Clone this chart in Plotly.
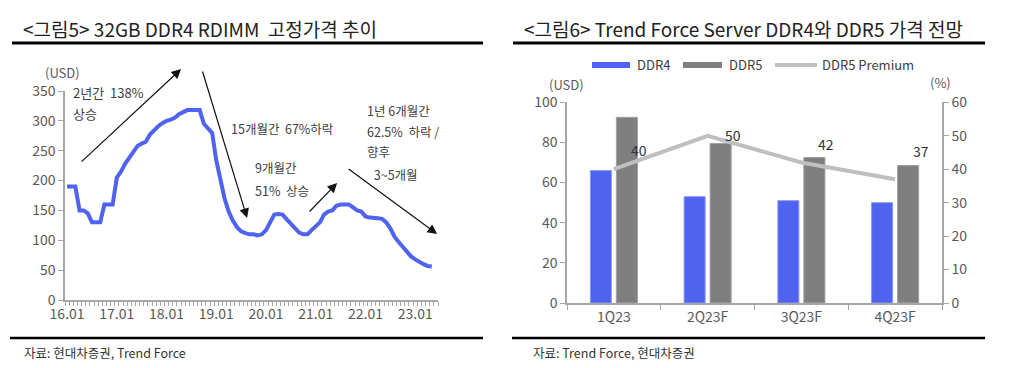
import plotly.graph_objects as go

# ---------------- data ----------------
# Left chart: 32GB DDR4 RDIMM fixed price (USD), monthly from 2016.01
price_usd = [190, 190, 190, 150, 150, 145, 130, 130, 130, 160, 160, 160,
             205, 215, 228, 238, 248, 258, 262, 265, 277, 285, 291, 296,
             300, 302, 305, 311, 314, 318, 318, 318, 318, 295, 288, 280,
             234, 201, 170, 148, 133, 122, 115, 112, 110, 110, 108, 110,
             117, 130, 143, 144, 143, 135, 127, 120, 113, 110, 110, 117,
             123, 130, 143, 148, 150, 158, 160, 160, 160, 155, 150, 148,
             140, 138, 138, 137, 136, 130, 120, 106, 97, 89, 80, 73,
             68, 63, 60, 57, 56]
month_index = list(range(len(price_usd)))
year_tick_pos = [0, 12, 24, 36, 48, 60, 72, 84]
year_tick_labels = ["16.01", "17.01", "18.01", "19.01", "20.01", "21.01", "22.01", "23.01"]

# Right chart: Trend Force server DDR4 / DDR5 price outlook
quarters = ["1Q23", "2Q23F", "3Q23F", "4Q23F"]
ddr4 = [66, 53, 51, 50]
ddr5 = [92.5, 79.5, 72.5, 68.5]
ddr5_premium = [40, 50, 42, 37]

# ---------------- helpers ----------------
W, H = 1010, 368
OX, OY = 8, 8   # page body margin compensation

def fx(x):
    return (x - OX) / W

def fy(y):
    return 1 - (y - OY) / H

FONT = "Noto Sans CJK KR"
TXT = "#404040"
TICK = "#595959"
AXC = "#A6A6A6"
BLUE = "#4F63F0"
GRAY = "#7F7F7F"
LGRAY = "#BFBFBF"

# left chart pixel mapping (for annotation arrows)
L_X0, L_DX = 67.0, 4.144
L_Y0, L_DY = 300.0, 209.0 / 350.0

def lmx(px):
    return (px - L_X0) / L_DX

def lmy(py):
    return (L_Y0 - py) / L_DY

fig = go.Figure()

fig.add_trace(go.Scatter(
    x=month_index, y=price_usd, mode="lines",
    line=dict(color=BLUE, width=4), xaxis="x", yaxis="y",
    showlegend=False, hoverinfo="skip"))

fig.add_trace(go.Bar(
    x=quarters, y=ddr4, name="DDR4", marker=dict(color=BLUE, line=dict(color="#8C9AF5", width=1)),
    xaxis="x2", yaxis="y2", showlegend=False))
fig.add_trace(go.Bar(
    x=quarters, y=ddr5, name="DDR5", marker=dict(color=GRAY, line=dict(color="#A0A0A0", width=1)),
    xaxis="x2", yaxis="y2", showlegend=False))
fig.add_trace(go.Scatter(
    x=quarters, y=ddr5_premium, name="DDR5 Premium", mode="lines",
    line=dict(color=LGRAY, width=4), xaxis="x2", yaxis="y3", showlegend=False))

axis_common = dict(showgrid=False, zeroline=False, showline=True, linecolor=AXC, automargin=False,
                   linewidth=1.5, tickcolor=AXC, tickfont=dict(family=FONT, size=14, color=TICK))

fig.update_layout(
    width=W, height=H, margin=dict(l=0, r=0, t=0, b=0, autoexpand=False),
    paper_bgcolor="white", plot_bgcolor="white",
    barmode="group", bargap=0.445, bargroupgap=0.19,
    font=dict(family=FONT, color=TXT),
    xaxis=dict(domain=[fx(65), fx(438)], range=[-0.5, 89.5], anchor="y",
               tickmode="array", tickvals=year_tick_pos, ticktext=year_tick_labels,
               ticks="", minor=dict(tickmode="linear", tick0=-0.5, dtick=1, ticks="outside",
                                     ticklen=4, tickcolor=AXC, tickwidth=1),
               **axis_common),
    yaxis=dict(domain=[fy(300), fy(91)], range=[0, 350], dtick=50, anchor="x",
               ticks="outside", ticklen=5, **axis_common),
    xaxis2=dict(domain=[fx(567), fx(942)], type="category", anchor="y2",
                ticks="outside", ticklen=5, tickson="boundaries", **axis_common),
    yaxis2=dict(domain=[fy(303), fy(102.3)], range=[0, 100], dtick=20, anchor="x2",
                ticks="outside", ticklen=5, **axis_common),
    yaxis3=dict(domain=[fy(303), fy(102.3)], range=[0, 60], dtick=10, anchor="x2",
                overlaying="y2", side="right", ticks="outside", ticklen=5, **axis_common),
)

ann = []

def txt(x, y, s, size=13, color=TXT, xanchor="left"):
    ann.append(dict(x=fx(x), y=fy(y), xref="paper", yref="paper", text=s, showarrow=False,
                    xanchor=xanchor, yanchor="middle", font=dict(family=FONT, size=size, color=color)))

# titles
txt(21, 29, "&lt;그림5&gt; 32GB DDR4 RDIMM  고정가격 추이", size=19, color="#222222")
txt(522, 29, "&lt;그림6&gt; Trend Force Server DDR4와 DDR5 가격 전망", size=19, color="#222222")
# sources
txt(22, 352, "자료: 현대차증권, Trend Force", size=12.5, color="#333333")
txt(531, 352, "자료: Trend Force, 현대차증권", size=12.5, color="#333333")
# unit labels
txt(43, 73, "(USD)", size=13, color=TICK)
txt(547, 84, "(USD)", size=13, color=TICK)
txt(928, 83, "(%)", size=13, color=TICK)

# left chart annotation text
txt(71, 93, "2년간  138%", size=13)
txt(71, 113, "상승", size=13)
txt(229, 128, "15개월간  67%하락", size=12.5)
txt(253, 168, "9개월간", size=12.5)
txt(253, 190, "51%  상승", size=12.5)
txt(365, 110, "1년 6개월간", size=12.5)
txt(365, 132, "62.5%  하락 /", size=12.5)
txt(365, 151, "향후", size=12.5)
txt(369, 174, " 3~5개월", size=12.5)

# arrows (tail -> head) in left chart data coordinates
arrows = [((80, 163), (181, 69)), ((202, 70), (247, 218)),
          ((308, 213), (337, 183)), ((347, 168), (437, 234))]
for (tx, ty), (hx, hy) in arrows:
    ann.append(dict(x=lmx(hx), y=lmy(hy), ax=lmx(tx), ay=lmy(ty), xref="x", yref="y",
                    axref="x", ayref="y", showarrow=True, arrowhead=2, arrowsize=1.6,
                    arrowwidth=1.2, arrowcolor="#111111", text=""))

# premium labels
shifts = [(25, 19), (25, 1), (25, 19), (26, 28)]
for q, v, (sx, sy) in zip(quarters, ddr5_premium, shifts):
    ann.append(dict(x=q, y=v, xref="x2", yref="y3", text=str(v), showarrow=False,
                    xshift=sx, yshift=sy, font=dict(family=FONT, size=14, color="#333333")))

# custom legend
txt(635, 65, "DDR4", size=13)
txt(727, 65, "DDR5", size=13)
txt(820, 65, "DDR5 Premium", size=13)
fig.update_layout(annotations=ann)

shapes = [
    dict(type="line", xref="paper", yref="paper", x0=fx(12), x1=fx(483), y0=fy(43), y1=fy(43),
         line=dict(color="black", width=3)),
    dict(type="line", xref="paper", yref="paper", x0=fx(513), x1=fx(985), y0=fy(43), y1=fy(43),
         line=dict(color="black", width=3)),
    dict(type="line", xref="paper", yref="paper", x0=fx(10), x1=fx(483), y0=fy(338), y1=fy(338),
         line=dict(color="black", width=2.5)),
    dict(type="line", xref="paper", yref="paper", x0=fx(512), x1=fx(985), y0=fy(338), y1=fy(338),
         line=dict(color="black", width=2.5)),
    dict(type="rect", xref="paper", yref="paper", x0=fx(592), x1=fx(630), y0=fy(68), y1=fy(62),
         fillcolor=BLUE, line=dict(width=0)),
    dict(type="rect", xref="paper", yref="paper", x0=fx(683), x1=fx(722), y0=fy(68), y1=fy(62),
         fillcolor=GRAY, line=dict(width=0)),
    dict(type="line", xref="paper", yref="paper", x0=fx(775), x1=fx(817), y0=fy(65), y1=fy(65),
         line=dict(color=LGRAY, width=4)),
]
fig.update_layout(shapes=shapes)

fig.write_html("out.html")
